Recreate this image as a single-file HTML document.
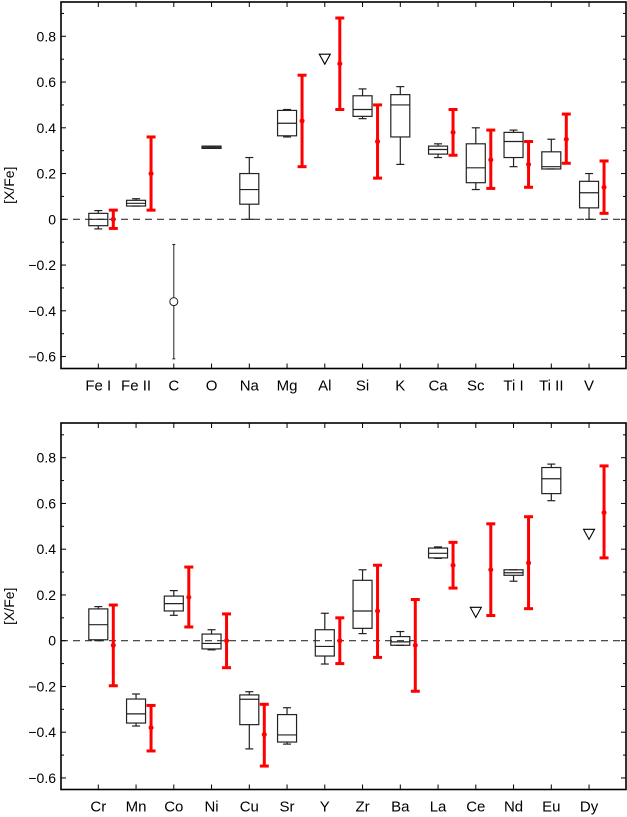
<!DOCTYPE html>
<html><head><meta charset="utf-8"><style>
html,body{margin:0;padding:0;background:#fff;}
svg{display:block;font-family:"Liberation Sans",sans-serif;}
</style></head><body>
<svg id="chart" width="627" height="817" viewBox="0 0 627 817"></svg>
<script>
// Top panel data
const topCategories = ["Fe I","Fe II","C","O","Na","Mg","Al","Si","K","Ca","Sc","Ti I","Ti II","V"];
// box: [whiskerLow, q1, median, q3, whiskerHigh] (null = none)
const topBoxes = [
  [-0.042,-0.028,0.0,0.026,0.038],
  [0.058,0.058,0.07,0.083,0.09],
  null,
  [0.31,0.31,0.315,0.32,0.32],
  [0.0,0.066,0.13,0.20,0.27],
  [0.36,0.365,0.42,0.476,0.48],
  null,
  [0.44,0.45,0.48,0.54,0.57],
  [0.24,0.36,0.50,0.545,0.58],
  [0.27,0.285,0.305,0.32,0.33],
  [0.13,0.16,0.225,0.33,0.40],
  [0.23,0.27,0.34,0.38,0.39],
  [0.22,0.22,0.23,0.295,0.35],
  [0.0,0.05,0.116,0.166,0.20]
];
// red error bars: [value, low, high]
const topRed = [
  [0.0,-0.04,0.04],[0.2,0.04,0.36],null,null,null,[0.43,0.23,0.63],[0.68,0.48,0.88],
  [0.34,0.18,0.50],null,[0.38,0.28,0.48],[0.26,0.135,0.39],[0.24,0.14,0.34],[0.35,0.245,0.46],[0.14,0.026,0.255]
];
const topTriangles = [null,null,null,null,null,null,0.70,null,null,null,null,null,null,null];
const topCircle = [2,-0.36,-0.61,-0.11]; // index, value, low, high

// Bottom panel data
const botCategories = ["Cr","Mn","Co","Ni","Cu","Sr","Y","Zr","Ba","La","Ce","Nd","Eu","Dy"];
const botBoxes = [
  [0.0,0.004,0.07,0.139,0.149],
  [-0.373,-0.36,-0.32,-0.255,-0.233],
  [0.111,0.13,0.162,0.195,0.219],
  [-0.04,-0.036,-0.012,0.029,0.048],
  [-0.473,-0.367,-0.256,-0.237,-0.223],
  [-0.452,-0.443,-0.412,-0.323,-0.293],
  [-0.102,-0.067,-0.025,0.048,0.12],
  [0.031,0.054,0.13,0.264,0.31],
  [-0.02,-0.02,-0.005,0.018,0.04],
  [0.36,0.362,0.382,0.405,0.41],
  null,
  [0.26,0.286,0.297,0.31,0.31],
  [0.612,0.643,0.708,0.757,0.772],
  null
];
const botRed = [
  [-0.02,-0.197,0.156],[-0.38,-0.482,-0.283],[0.19,0.06,0.322],[0.0,-0.118,0.117],[-0.41,-0.548,-0.278],null,
  [0.0,-0.10,0.10],[0.13,-0.073,0.33],[-0.02,-0.221,0.18],[0.33,0.23,0.43],[0.31,0.11,0.511],[0.34,0.14,0.542],null,[0.56,0.362,0.764]
];
const botTriangles = [null,null,null,null,null,null,null,null,null,null,0.124,null,null,0.465];
const yTickValues = [0.8,0.6,0.4,0.2,0,-0.2,-0.4,-0.6];
const yTickLabels = ["0.8","0.6","0.4","0.2","0","-0.2","-0.4","-0.6"];

const svg = document.getElementById('chart');
const NS = 'http://www.w3.org/2000/svg';
function mk(tag, attrs, parent){
  const e = document.createElementNS(NS, tag);
  for (const k in attrs) e.setAttribute(k, attrs[k]);
  (parent||svg).appendChild(e);
  return e;
}

function panel(name, top, bottom, zeroY, cats, boxes, red, tris, circle){
  const L = 61, R = 626;
  const g = mk('g', {});
  
  
  const yS = v => zeroY - v * 228.75;
  const xS = i => 98.3 + i * 37.75;
  // zero line
  const zl = mk('line', {x1:L, x2:R, y1:yS(0), y2:yS(0), stroke:'#333', 'stroke-width':1.1, 'stroke-dasharray':'7,5'}, g);
  
  
  // y ticks
  for (let k = -6; k <= 9; k++) {
    const v = k / 10, y = yS(v);
    if (y < top || y > bottom) continue;
    const len = (k % 2 === 0) ? 5 : 3;
    mk('line', {x1:L, x2:L+len, y1:y, y2:y, stroke:'#000', 'stroke-width':1}, g);
    mk('line', {x1:R, x2:R-len, y1:y, y2:y, stroke:'#000', 'stroke-width':1}, g);
  }
  yTickValues.forEach((v, i) => {
    const t = mk('text', {x:56, y:yS(v)+5, 'text-anchor':'end', 'font-size':14, fill:'#000'}, g);
    t.textContent = yTickLabels[i].replace('-', '\u2212');
    
    
  });
  // x ticks and labels
  cats.forEach((c, i) => {
    const x = xS(i);
    mk('line', {x1:x, x2:x, y1:bottom, y2:bottom-5, stroke:'#000', 'stroke-width':1}, g);
    mk('line', {x1:x, x2:x, y1:top, y2:top+5, stroke:'#000', 'stroke-width':1}, g);
    const t = mk('text', {x:x, y:bottom+22, 'text-anchor':'middle', 'font-size':15, fill:'#000'}, g);
    t.textContent = c;
    
    
  });
  // boxes
  boxes.forEach((b, i) => {
    if (!b) return;
    const x = xS(i), w = 9.5;
    const bg = mk('g', {stroke:'#222', 'stroke-width':1.2, fill:'none'}, g);
    
    
    mk('line', {x1:x, x2:x, y1:yS(b[4]), y2:yS(b[3])}, bg);
    mk('line', {x1:x, x2:x, y1:yS(b[1]), y2:yS(b[0])}, bg);
    mk('line', {x1:x-4, x2:x+4, y1:yS(b[4]), y2:yS(b[4])}, bg);
    mk('line', {x1:x-4, x2:x+4, y1:yS(b[0]), y2:yS(b[0])}, bg);
    mk('rect', {x:x-w, y:yS(b[3]), width:2*w, height:Math.max(1, yS(b[1])-yS(b[3]))}, bg);
    mk('line', {x1:x-w, x2:x+w, y1:yS(b[2]), y2:yS(b[2])}, bg);
  });
  // red error bars
  red.forEach((r, i) => {
    if (!r) return;
    const x = xS(i) + 15;
    const rg = mk('g', {stroke:'#ff0000', 'stroke-width':3, fill:'#ff0000'}, g);
    
    
    mk('line', {x1:x, x2:x, y1:yS(r[1]), y2:yS(r[2])}, rg);
    mk('line', {x1:x-4.5, x2:x+4.5, y1:yS(r[1]), y2:yS(r[1])}, rg);
    mk('line', {x1:x-4.5, x2:x+4.5, y1:yS(r[2]), y2:yS(r[2])}, rg);
    mk('circle', {cx:x, cy:yS(r[0]), r:2.5, stroke:'none'}, rg);
  });
  // triangles (upper limits)
  tris.forEach((v, i) => {
    if (v === null) return;
    const x = xS(i), y = yS(v);
    const p = mk('polygon', {points:`${x-5.5},${y-5} ${x+5.5},${y-5} ${x},${y+5}`, fill:'none', stroke:'#000', 'stroke-width':1.1}, g);
    
    
  });
  if (circle) {
    const x = xS(circle[0]);
    const cg = mk('g', {stroke:'#222', 'stroke-width':1, fill:'none'}, g);
    
    
    mk('line', {x1:x, x2:x, y1:yS(circle[3]), y2:yS(circle[2])}, cg);
    mk('line', {x1:x-1.5, x2:x+1.5, y1:yS(circle[3]), y2:yS(circle[3])}, cg);
    mk('line', {x1:x-1.5, x2:x+1.5, y1:yS(circle[2]), y2:yS(circle[2])}, cg);
    mk('circle', {cx:x, cy:yS(circle[1]), r:4, fill:'#fff'}, cg);
  }
  // frame
  const fr = mk('rect', {x:L, y:top, width:R-L, height:bottom-top, fill:'none', stroke:'#000', 'stroke-width':1.6}, g);
  
  
  // y title
  const cy = (top + bottom) / 2;
  const yt = mk('text', {x:0, y:0, transform:`translate(14,${cy}) rotate(-90)`, 'text-anchor':'middle', 'font-size':14, fill:'#000'}, g);
  yt.textContent = '[X/Fe]';
  
  
}

panel('top', 2, 368.5, 219.3, topCategories, topBoxes, topRed, topTriangles, topCircle);
panel('bottom', 423, 789.5, 640.7, botCategories, botBoxes, botRed, botTriangles, null);
</script>
</body></html>
